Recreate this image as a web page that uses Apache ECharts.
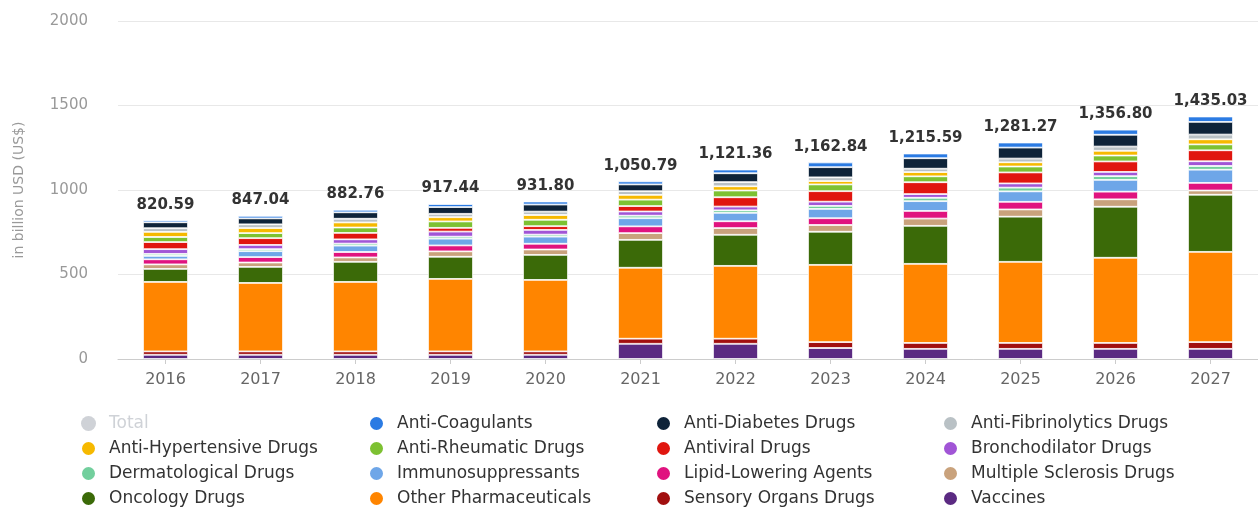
<!DOCTYPE html>
<html>
<head>
<meta charset="utf-8">
<script src="https://cdn.jsdelivr.net/npm/echarts@6/dist/echarts.min.js"></script>
<style>
html,body{margin:0;padding:0;background:#fff;}
#chart{width:1258px;height:507px;}
</style>
</head>
<body>
<div id="chart"></div>
<script>
var years = ['2016','2017','2018','2019','2020','2021','2022','2023','2024','2025','2026','2027'];
var totals = [820.59, 847.04, 882.76, 917.44, 931.80, 1050.79, 1121.36, 1162.84, 1215.59, 1281.27, 1356.80, 1435.03];

var vaccines      = [25, 25, 25, 25, 25, 90, 90, 65, 60, 60, 60, 60];
var sensory       = [20, 20, 20, 20, 20, 30, 30, 35, 35, 35, 35, 40];
var otherPharma   = [411, 405, 411, 429, 423, 420, 431, 457, 468, 480, 504, 534];
var oncology      = [77, 95, 119, 131, 148, 165, 184, 196, 225, 267, 302, 338];
var multipleScl   = [27, 26, 26, 32, 32, 40, 40, 40, 43, 43, 44, 25];
var lipid         = [30, 32, 32, 35, 34, 40, 40, 40, 45, 45, 45, 45];
var immuno        = [20, 35, 38, 40, 42, 48, 50, 55, 58, 62, 70, 78];
var dermato       = [12, 12, 12, 12, 12, 15, 15, 18, 20, 22, 22, 22];
var broncho       = [28, 25, 25, 30, 28, 25, 22, 25, 22, 25, 25, 28];
var antiviral     = [42, 40, 38, 22, 22, 32, 55, 62, 70, 65, 62, 65];
var rheumatic     = [30, 30, 32, 38, 38, 38, 40, 40, 35, 35, 35, 35];
var hypertensive  = [30, 30, 30, 25, 28, 28, 25, 20, 25, 25, 28, 30];
var fibrinolytics = [22, 22, 22, 20, 20, 22, 25, 22, 20, 22, 25, 28];
var diabetes      = [35, 35, 38, 40, 42, 40, 52, 60, 62, 65, 70, 75];
var coagulants    = [12, 15, 15, 18, 18, 18, 22, 28, 28, 30, 30, 32];

var stackDefs = [
  ['Vaccines', vaccines, '#5b2a82'],
  ['Sensory Organs Drugs', sensory, '#a10f0f'],
  ['Other Pharmaceuticals', otherPharma, '#ff8500'],
  ['Oncology Drugs', oncology, '#3b6a08'],
  ['Multiple Sclerosis Drugs', multipleScl, '#c9a27c'],
  ['Lipid-Lowering Agents', lipid, '#e0137f'],
  ['Immunosuppressants', immuno, '#6ea6e8'],
  ['Dermatological Drugs', dermato, '#72cf9d'],
  ['Bronchodilator Drugs', broncho, '#a155d6'],
  ['Antiviral Drugs', antiviral, '#e0160f'],
  ['Anti-Rheumatic Drugs', rheumatic, '#7dc132'],
  ['Anti-Hypertensive Drugs', hypertensive, '#f6b900'],
  ['Anti-Fibrinolytics Drugs', fibrinolytics, '#b9c1c5'],
  ['Anti-Diabetes Drugs', diabetes, '#0e2339'],
  ['Anti-Coagulants', coagulants, '#2b7be3']
];

function fmt(v){
  return v.toLocaleString('en-US',{minimumFractionDigits:2,maximumFractionDigits:2});
}

var series = [{
  name: 'Total', type: 'bar', data: totals, itemStyle:{color:'#999'}, barWidth: 45
}];
stackDefs.forEach(function(d, i){
  var s = {
    name: d[0], type: 'bar', stack: 'all', data: d[1], barWidth: 45,
    itemStyle: {color: d[2], borderColor: '#fff', borderWidth: 0.8},
    emphasis: {disabled: true}
  };
  if (i === stackDefs.length - 1) {
    s.label = {
      show: true, position: 'top', distance: 8,
      color: '#333', fontSize: 15, fontWeight: 'bold', fontFamily: 'DejaVu Sans',
      formatter: function(p){ return fmt(totals[p.dataIndex]); }
    };
  }
  series.push(s);
});

var legendCols = [
  ['Total', 'Anti-Hypertensive Drugs', 'Dermatological Drugs', 'Oncology Drugs'],
  ['Anti-Coagulants', 'Anti-Rheumatic Drugs', 'Immunosuppressants', 'Other Pharmaceuticals'],
  ['Anti-Diabetes Drugs', 'Antiviral Drugs', 'Lipid-Lowering Agents', 'Sensory Organs Drugs'],
  ['Anti-Fibrinolytics Drugs', 'Bronchodilator Drugs', 'Multiple Sclerosis Drugs', 'Vaccines']
];
var legendLeft = [80, 368, 655, 942];
var legends = legendCols.map(function(col, i){
  return {
    data: col, orient: 'vertical', left: legendLeft[i], top: 415, height: 92,
    padding: 0,
    icon: 'circle', itemWidth: 15, itemHeight: 15, itemGap: 8,
    textStyle: {color: '#333', fontSize: 17, lineHeight: 17, fontFamily: 'DejaVu Sans',
      padding: [0, 0, 0, 8]},
    selected: {'Total': false}
  };
});

var chart = echarts.init(document.getElementById('chart'), null, {renderer: 'canvas'});
chart.setOption({
  animation: false,
  backgroundColor: '#fff',
  grid: {left: 118, right: 0, top: 21, bottom: 148},
  legend: legends,
  xAxis: {
    type: 'category', data: years,
    axisLine: {lineStyle: {color: '#ccc'}},
    axisTick: {show: true, alignWithLabel: true, length: 5, lineStyle: {color: '#ccc'}},
    axisLabel: {color: '#666', fontSize: 16, margin: 13, fontFamily: 'DejaVu Sans'}
  },
  yAxis: {
    type: 'value', min: 0, max: 2000, interval: 500,
    name: 'in billion USD (US$)', nameLocation: 'middle', nameGap: 92,
    nameTextStyle: {color: '#999', fontSize: 14, fontFamily: 'DejaVu Sans'},
    axisLabel: {color: '#999', fontSize: 15, margin: 30, fontFamily: 'DejaVu Sans',
      formatter: function(v){ return String(v); }},
    splitLine: {lineStyle: {color: '#e8e8e8'}},
    axisLine: {show: false}, axisTick: {show: false}
  },
  series: series
});
</script>
</body>
</html>
